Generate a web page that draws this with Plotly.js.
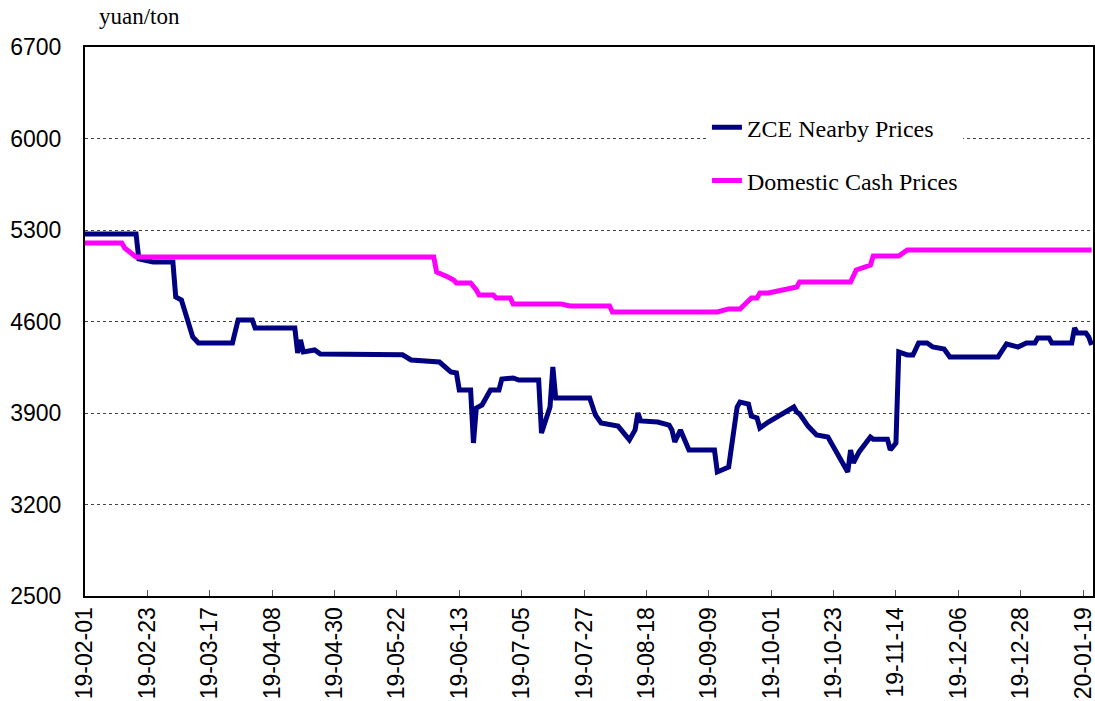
<!DOCTYPE html>
<html>
<head>
<meta charset="utf-8">
<script src="https://cdn.plot.ly/plotly-3.0.1.min.js"></script>
<style>
  html, body { margin: 0; padding: 0; background: #fff; }
  #chart { width: 1095px; height: 701px; }
</style>
</head>
<body>
<div id="chart"></div>
<script>
// ZCE nearby futures prices (yuan/ton)
const zceDates = [
  '2019-02-01','2019-02-19','2019-02-20','2019-02-25','2019-03-04','2019-03-05','2019-03-07','2019-03-11',
  '2019-03-13','2019-03-25','2019-03-27','2019-04-01','2019-04-02','2019-04-16','2019-04-17','2019-04-18',
  '2019-04-19','2019-04-23','2019-04-25','2019-05-24','2019-05-27','2019-06-06','2019-06-10','2019-06-12',
  '2019-06-13','2019-06-17','2019-06-18','2019-06-19','2019-06-21','2019-06-24','2019-06-27','2019-06-28',
  '2019-07-02','2019-07-04','2019-07-11','2019-07-12','2019-07-15','2019-07-16','2019-07-17','2019-07-22',
  '2019-07-23','2019-07-29','2019-07-31','2019-08-02','2019-08-08','2019-08-12','2019-08-14','2019-08-15',
  '2019-08-16','2019-08-20','2019-08-22','2019-08-26','2019-08-27','2019-08-28','2019-08-30','2019-09-02',
  '2019-09-11','2019-09-12','2019-09-16','2019-09-19','2019-09-20','2019-09-23','2019-09-24','2019-09-26',
  '2019-09-27','2019-09-30','2019-10-09','2019-10-10','2019-10-11','2019-10-14','2019-10-17','2019-10-21',
  '2019-10-23','2019-10-25','2019-10-28','2019-10-29','2019-10-30','2019-11-01','2019-11-05','2019-11-06',
  '2019-11-11','2019-11-12','2019-11-14','2019-11-15','2019-11-18','2019-11-20','2019-11-22','2019-11-25',
  '2019-11-27','2019-12-01','2019-12-03','2019-12-20','2019-12-23','2019-12-27','2019-12-30','2020-01-02',
  '2020-01-03','2020-01-07','2020-01-08','2020-01-15','2020-01-16','2020-01-17','2020-01-20','2020-01-21',
  '2020-01-22'
];
const zcePrices = [
  5270,5270,5078,5055,5055,4788,4765,4482,
  4436,4436,4612,4612,4550,4550,4359,4459,
  4367,4382,4351,4345,4306,4290,4214,4206,
  4076,4076,3671,3938,3961,4076,4076,4160,
  4168,4152,4152,3747,3946,4252,4015,4015,
  4023,4015,3885,3824,3800,3694,3770,3900,
  3839,3839,3831,3808,3770,3678,3770,3617,
  3617,3449,3487,3946,3984,3969,3877,3862,
  3785,3831,3946,3908,3893,3800,3732,3716,
  3640,3556,3449,3617,3518,3602,3716,3700,
  3700,3617,3670,4367,4344,4344,4436,4436,
  4405,4390,4329,4329,4428,4405,4436,4436,
  4474,4474,4436,4436,4550,4512,4512,4482,
  4420
];

// Domestic cash prices (yuan/ton)
const cashDates = [
  '2019-02-01','2019-02-14','2019-02-15','2019-02-18','2019-02-19','2019-06-04','2019-06-05','2019-06-09',
  '2019-06-11','2019-06-12','2019-06-17','2019-06-19','2019-06-20','2019-06-25','2019-06-26','2019-07-01',
  '2019-07-02','2019-07-19','2019-07-22','2019-08-05','2019-08-06','2019-09-12','2019-09-16','2019-09-20',
  '2019-09-24','2019-09-26','2019-09-27','2019-09-30','2019-10-09','2019-10-10','2019-10-11','2019-10-29',
  '2019-10-31','2019-11-03','2019-11-05','2019-11-06','2019-11-15','2019-11-18','2020-01-22'
];
const cashPrices = [
  5200,5200,5162,5109,5093,5093,4979,4941,
  4918,4895,4895,4841,4803,4803,4780,4780,
  4734,4734,4719,4719,4673,4673,4696,4696,
  4780,4780,4818,4818,4864,4864,4902,4902,
  4994,5017,5032,5101,5101,5147,5147
];

// x-axis tick dates (every 22 days) and their labels
const tickDates = [
  '2019-02-01','2019-02-23','2019-03-17','2019-04-08','2019-04-30','2019-05-22','2019-06-13','2019-07-05',
  '2019-07-27','2019-08-18','2019-09-09','2019-10-01','2019-10-23','2019-11-14','2019-12-06','2019-12-28',
  '2020-01-19'
];
const tickLabels = [
  '19-02-01','19-02-23','19-03-17','19-04-08','19-04-30','19-05-22','19-06-13','19-07-05',
  '19-07-27','19-08-18','19-09-09','19-10-01','19-10-23','19-11-14','19-12-06','19-12-28',
  '20-01-19'
];

const seriesNames = ['ZCE Nearby Prices', 'Domestic Cash Prices'];
const unitLabel = 'yuan/ton';

const serif = '"Times New Roman", "Liberation Serif", serif';
const sans = 'Arial, "Liberation Sans", sans-serif';

const traces = [
  {
    x: zceDates, y: zcePrices, name: seriesNames[0], type: 'scatter', mode: 'lines',
    line: {color: '#000080', width: 5}, legendgroup: 'a'
  },
  {
    x: cashDates, y: cashPrices, name: seriesNames[1], type: 'scatter', mode: 'lines',
    line: {color: '#ff00ff', width: 5}, legendgroup: 'b'
  }
];

const layout = {
  width: 1095,
  height: 701,
  margin: {l: 85, r: 2, t: 47, b: 105},
  paper_bgcolor: '#fff',
  plot_bgcolor: '#fff',
  showlegend: true,
  legend: {
    x: 0.617, y: 0.894, xanchor: 'left', yanchor: 'top',
    bgcolor: '#fff', borderwidth: 0,
    font: {family: serif, size: 24, color: '#000'},
    traceorder: 'grouped', tracegroupgap: 19
  },
  xaxis: {
    type: 'date',
    range: ['2019-02-01', '2020-01-22 12:00'],
    tickmode: 'array',
    tickvals: tickDates,
    ticktext: tickLabels,
    tickangle: -90,
    ticklabeloverflow: 'allow',
    ticks: 'inside', ticklen: 6, tickcolor: '#555', tickwidth: 1,
    tickfont: {family: sans, size: 23, color: '#000'},
    showgrid: false,
    showline: true, linecolor: '#000', linewidth: 2, mirror: true,
    zeroline: false
  },
  yaxis: {
    range: [2500, 6700],
    tick0: 2500, dtick: 700,
    ticks: '',
    ticklabelstandoff: 17,
    tickfont: {family: sans, size: 23, color: '#000'},
    showgrid: true, gridcolor: '#444', gridwidth: 1, griddash: 'dot',
    showline: true, linecolor: '#000', linewidth: 2, mirror: true,
    zeroline: false
  },
  // white patch behind the legend, hiding the grid line there
  shapes: [
    {
      type: 'rect', xref: 'paper', yref: 'paper', layer: 'between',
      x0: 0.5635, x1: 0.902, y0: 0.71, y1: 0.90,
      fillcolor: '#fff', line: {width: 0}
    }
  ],
  annotations: [
    {
      text: unitLabel, xref: 'paper', yref: 'paper',
      x: 0.012, y: 1.0, xanchor: 'left', yanchor: 'bottom', yshift: 16,
      showarrow: false, font: {family: serif, size: 23, color: '#000'}
    }
  ]
};

Plotly.newPlot('chart', traces, layout, {displayModeBar: false, staticPlot: true});
</script>
</body>
</html>
